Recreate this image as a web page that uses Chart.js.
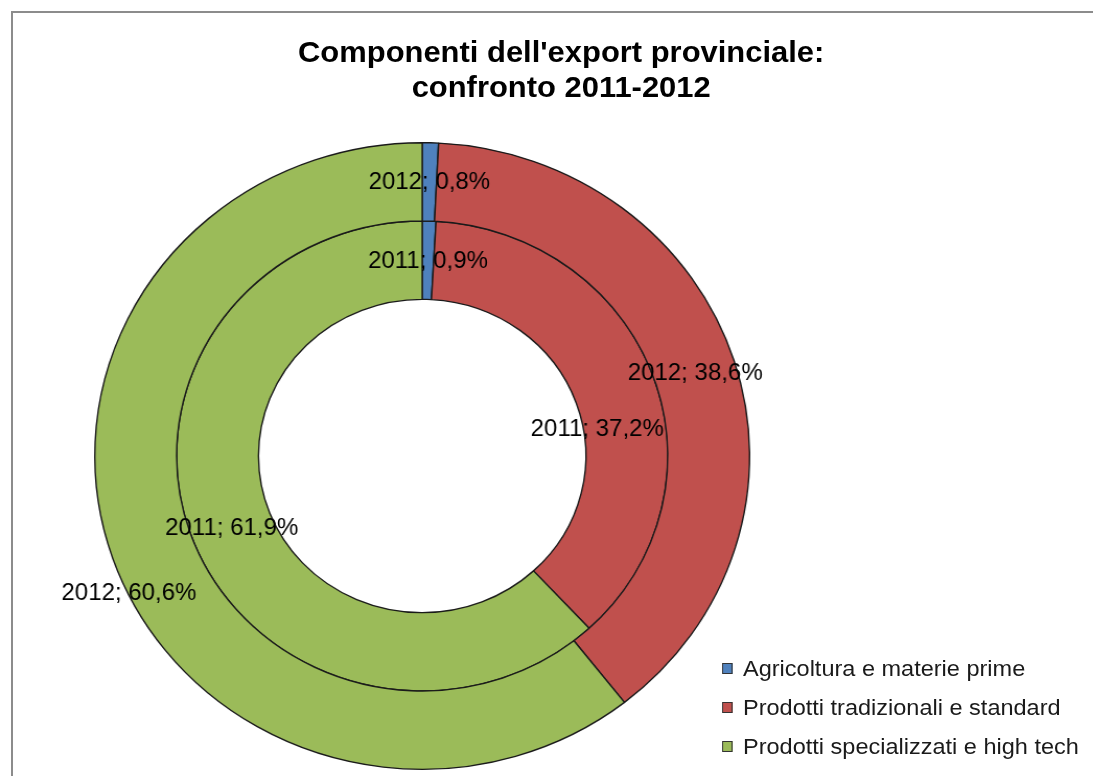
<!DOCTYPE html>
<html lang="it">
<head>
<meta charset="utf-8">
<title>Componenti dell'export provinciale</title>
<script src="https://cdn.jsdelivr.net/npm/chart.js@4.4.1/dist/chart.umd.min.js"></script>
<style>
  html, body { margin: 0; padding: 0; background: #fff; width: 1093px; height: 776px; overflow: hidden; }
  #frame { position: absolute; left: 11px; top: 11px; width: 1300px; height: 1000px; border: 2px solid #8c8c8c; }
  /* the whole figure is drawn slightly wider than tall */
  #stage { position: absolute; left: 0; top: 0; width: 1074px; height: 776px; transform: scaleX(1.045); transform-origin: 0 0; }
  #chart { position: absolute; left: 0; top: 0; }
  #title { position: absolute; left: 0; top: 34px; width: 1074px; text-align: center;
           font: bold 29.6px "Liberation Sans", Arial, sans-serif; line-height: 35px; color: #000; }
  #legend { position: absolute; left: 691px; top: 649px; font: 22.5px "Liberation Sans", Arial, sans-serif; color: #1a1a1a; }
  #legend .row { display: flex; align-items: center; height: 39px; white-space: nowrap; }
  #legend .box { width: 10px; height: 11px; box-sizing: border-box; border: 1px solid #333; margin-right: 10px; }
</style>
</head>
<body>
<div id="frame"></div>
<div id="stage">
  <canvas id="chart" width="1074" height="776"></canvas>
  <div id="title">Componenti dell'export provinciale:<br>confronto 2011-2012</div>
  <div id="legend"></div>
</div>
<script>
// Export components by category, percentage share per year
const categories = ['Agricoltura e materie prime', 'Prodotti tradizionali e standard', 'Prodotti specializzati e high tech'];
const years = ['2012', '2011'];           // outer ring first, inner ring second
const share2012 = [0.8, 38.6, 60.6];
const share2011 = [0.9, 37.2, 61.9];
const sliceColors = ['#4F81BD', '#C0504D', '#9BBB59'];

// A few labels were moved away from their slice centre (radius px, angle deg)
const labelShift = {
  '1:1': { dr: -26, da: 10.4 },
  '0:2': { dr: 38, da: -6.9 }
};

const fmt = v => v.toFixed(1).replace('.', ',') + '%';

const sliceLabels = {
  id: 'sliceLabels',
  afterDatasetsDraw(chart) {
    const ctx = chart.ctx;
    ctx.save();
    ctx.font = '23px "Liberation Sans", Arial, sans-serif';
    ctx.fillStyle = '#000';
    ctx.textAlign = 'center';
    ctx.textBaseline = 'middle';
    chart.data.datasets.forEach((ds, di) => {
      chart.getDatasetMeta(di).data.forEach((arc, i) => {
        const p = arc.getProps(['x', 'y', 'startAngle', 'endAngle', 'innerRadius', 'outerRadius'], true);
        const s = labelShift[di + ':' + i] || { dr: 0, da: 0 };
        const a = (p.startAngle + p.endAngle) / 2 + s.da * Math.PI / 180;
        const r = (p.innerRadius + p.outerRadius) / 2 + s.dr;
        ctx.fillText(ds.label + '; ' + fmt(ds.data[i]), p.x + r * Math.cos(a), p.y + r * Math.sin(a) + 1);
      });
    });
    ctx.restore();
  }
};

new Chart(document.getElementById('chart'), {
  type: 'doughnut',
  data: {
    labels: categories,
    datasets: [
      { label: years[0], data: share2012, backgroundColor: sliceColors, borderColor: '#1a1a1a', borderWidth: 1.4 },
      { label: years[1], data: share2011, backgroundColor: sliceColors, borderColor: '#1a1a1a', borderWidth: 1.4 }
    ]
  },
  options: {
    responsive: false,
    devicePixelRatio: 1,
    animation: false,
    events: [],
    cutout: '50%',
    layout: { padding: { left: 0, right: 266, top: 142, bottom: 6 } },
    plugins: {
      legend: { display: false },
      title: { display: false },
      tooltip: { enabled: false }
    }
  },
  plugins: [sliceLabels]
});

// Legend rows built from the same categories and colours
const legend = document.getElementById('legend');
categories.forEach((name, i) => {
  const row = document.createElement('div');
  row.className = 'row';
  const box = document.createElement('span');
  box.className = 'box';
  box.style.background = sliceColors[i];
  const txt = document.createElement('span');
  txt.textContent = name;
  row.appendChild(box);
  row.appendChild(txt);
  legend.appendChild(row);
});
</script>
</body>
</html>
